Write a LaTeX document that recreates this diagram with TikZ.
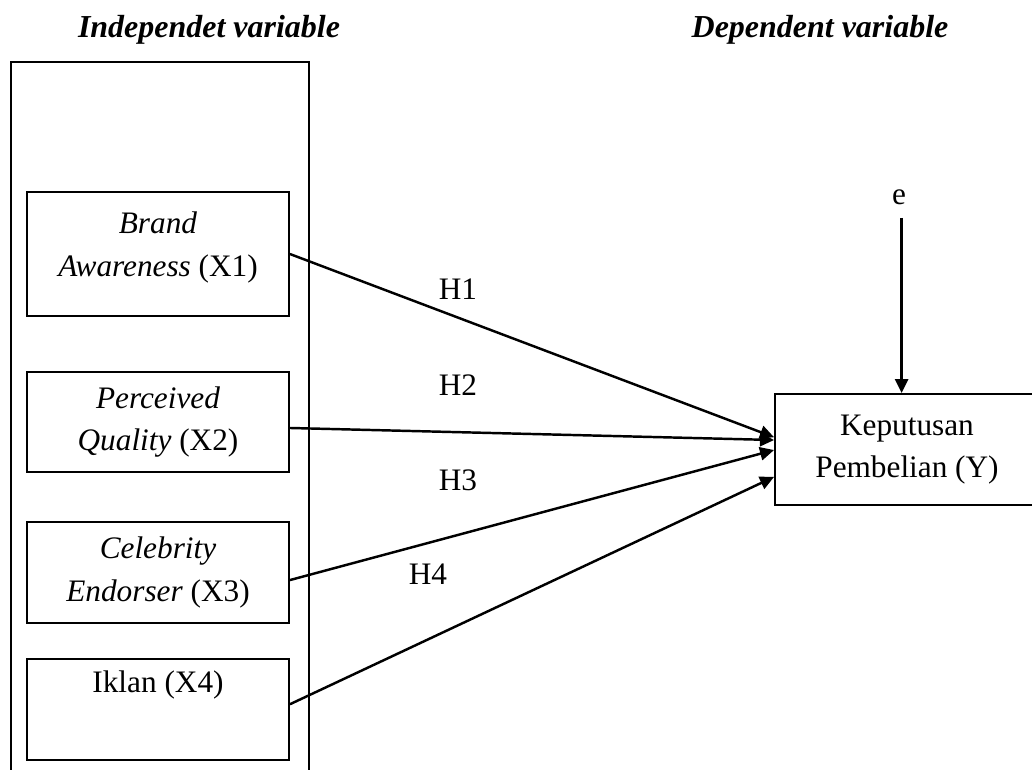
\documentclass[tikz,border=0pt]{standalone}
\usepackage{fontspec}
\setmainfont{Liberation Serif}
\usetikzlibrary{arrows.meta,positioning,calc}

\begin{document}
\begin{tikzpicture}[x=0.02cm, y=-0.02cm, font=\fontsize{17.8}{24.1}\selectfont,
        >={Triangle[length=8pt,width=7.5pt]},
        caixa/.style={draw, line width=1.1pt, align=center, inner sep=0pt, minimum width=5.24cm},
        seta/.style={->, line width=1.4pt},
        titulo/.style={font=\fontsize{18.2}{24.1}\selectfont\bfseries\itshape}]
        \useasboundingbox (0,0) rectangle (1032,769);

        % Titulos
        \node[titulo] (tind) at (209,30) {Independet variable};
        \node[titulo] (tdep) at (820,30) {Dependent variable};

        % Moldura das variaveis independentes
        \draw[line width=1pt] (11,800) -- (11,62) -- (309,62) -- (309,800);

        % Variaveis independentes
        \node[caixa, minimum height=2.48cm] (x1) at (158,254) {\textit{Brand}\\\textit{Awareness} (X1)\\[-20pt]\strut};
        \node[caixa, minimum height=2.0cm] (x2) at (158,422) {\textit{Perceived}\\\textit{Quality} (X2)};
        \node[caixa, minimum height=2.02cm] (x3) at (158,572.5) {\textit{Celebrity}\\\textit{Endorser} (X3)};
        \node[caixa, minimum height=2.02cm] (x4) at (158,709.5) {Iklan (X4)\\\strut};

        % Variavel dependente
        \node[caixa, minimum width=5.28cm, minimum height=2.22cm] (y) at (907,449.5) {Keputusan\\Pembelian (Y)};

        % Erro
        \node (e) at (899,197) {e};
        \draw[seta, shorten <=4pt] ([xshift=1.5pt]e.south) -- ([xshift=1.5pt]e.south |- y.north);

        % Hipoteses
        \draw[seta] (x1.east) -- ([yshift=7pt]y.west);
        \draw[seta] ([yshift=-3.4pt]x2.east) -- ([yshift=5.4pt]y.west);
        \draw[seta] ([yshift=-4.3pt]x3.east) -- ([yshift=-0.3pt]y.west);
        \draw[seta] ([yshift=3pt]x4.east) -- ([yshift=-15.6pt]y.west);

        \node (h1) at (458,289) {H1};
        \node (h2) at (458,385) {H2};
        \node (h3) at (458,480) {H3};
        \node (h4) at (428,574) {H4};
    \end{tikzpicture}
\end{document}
